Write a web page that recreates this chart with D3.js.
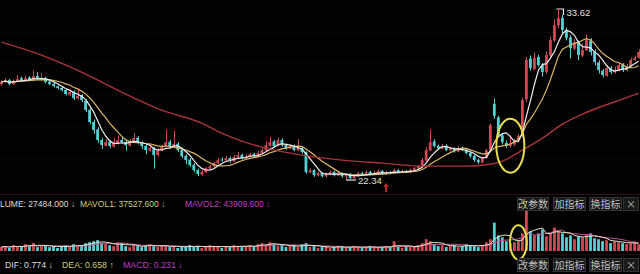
<!DOCTYPE html>
<html>
<head>
<meta charset="utf-8">
<script src="https://cdn.jsdelivr.net/npm/d3@7"></script>
<style>
html, body { margin: 0; padding: 0; background: #020202; overflow: hidden; }
svg { display: block; }
</style>
</head>
<body>
<svg id="chart" width="640" height="274"></svg>
<script>
// daily candles
const opens = [28.70,28.84,28.97,28.70,28.90,29.10,28.95,29.15,28.97,29.25,
29.00,29.12,28.86,28.72,28.55,28.46,28.32,28.00,28.20,27.75,
27.95,27.60,27.00,26.20,25.70,25.00,24.62,24.88,24.55,24.78,
25.00,24.88,24.62,24.90,25.15,24.80,24.60,24.30,24.45,24.00,
24.30,24.60,24.88,24.50,24.75,24.35,23.95,23.70,23.35,23.00,
22.70,22.85,23.10,23.25,23.45,23.70,23.64,23.80,23.58,23.85,
24.00,23.78,23.90,24.08,23.90,24.10,24.30,24.60,24.90,24.60,
25.00,24.68,24.42,24.60,24.30,24.48,24.20,22.85,23.00,22.64,
22.80,22.58,22.72,22.88,22.64,22.80,22.58,22.75,22.45,22.58,
22.80,22.65,22.88,22.72,22.78,22.95,22.72,22.88,22.78,23.00,
22.85,22.95,22.85,22.98,23.10,23.25,23.65,24.30,24.90,24.60,
24.42,24.62,24.30,24.40,24.22,24.48,24.35,24.15,23.95,23.68,
23.50,23.80,24.30,27.40,26.50,25.30,24.80,24.60,24.70,25.00,
25.30,27.70,30.40,29.70,30.50,29.95,29.50,30.60,31.60,32.60,
33.10,32.30,31.80,31.05,31.50,30.60,30.95,31.60,30.85,30.15,
29.60,29.25,29.80,29.48,29.60,30.00,29.60,29.88,30.32,30.45];

const closes = [28.84,28.97,28.70,28.90,29.03,28.97,29.10,28.97,29.23,29.03,
29.10,28.84,28.70,28.57,28.44,28.30,28.04,28.17,27.77,27.91,
27.64,26.98,26.18,25.65,24.98,24.65,24.85,24.59,24.79,24.98,
24.85,24.65,24.92,25.12,24.79,24.59,24.32,24.45,23.99,24.32,
24.59,24.85,24.52,24.72,24.32,23.92,23.66,23.32,22.99,22.73,
22.86,23.12,23.26,23.46,23.66,23.66,23.79,23.59,23.86,23.99,
23.79,23.92,24.05,23.92,24.12,24.32,24.65,24.85,24.59,24.98,
24.65,24.45,24.59,24.32,24.45,24.19,22.86,22.99,22.66,22.79,
22.59,22.73,22.86,22.66,22.79,22.59,22.73,22.46,22.59,22.79,
22.66,22.86,22.73,22.79,22.93,22.73,22.86,22.79,22.99,22.86,
22.93,22.86,22.99,23.12,23.26,23.66,24.32,24.85,24.59,24.45,
24.59,24.32,24.39,24.25,24.45,24.32,24.12,23.92,23.66,23.52,
23.79,24.32,25.98,26.60,25.32,24.85,24.59,24.72,24.98,25.25,
27.64,30.30,29.77,30.43,29.97,29.50,30.63,31.62,32.62,33.08,
32.29,31.76,31.09,31.49,30.63,30.96,31.62,30.83,30.16,29.63,
29.30,29.77,29.50,29.63,29.97,29.63,29.90,30.30,30.43,30.83];

const highs = [28.95,29.10,29.05,29.00,29.30,29.20,29.25,29.22,29.60,29.50,
29.45,29.18,28.95,28.80,28.62,28.55,28.40,28.35,28.28,28.40,
28.05,27.70,27.10,26.35,25.85,25.15,25.05,25.00,25.10,25.30,
25.20,24.95,25.05,25.45,25.25,24.90,24.70,24.60,24.55,24.45,
24.70,25.70,25.00,25.60,24.85,24.45,24.05,23.80,23.45,23.10,
23.00,23.20,23.35,23.55,23.80,23.85,23.95,23.90,24.00,24.20,
24.10,24.05,24.15,24.15,24.25,24.45,24.90,25.20,25.00,25.15,
25.10,24.75,24.70,24.68,25.05,24.55,24.25,23.10,23.05,22.90,
22.88,22.82,22.95,22.95,22.90,22.85,22.80,22.80,22.70,22.88,
22.90,23.00,22.95,22.95,23.05,23.00,22.95,22.95,23.10,23.05,
23.05,23.00,23.10,23.20,23.35,23.80,24.50,25.70,25.05,24.70,
24.75,24.70,24.55,24.50,24.60,24.55,24.40,24.20,24.00,23.75,
23.90,24.40,26.10,27.75,26.60,25.40,24.95,25.30,25.10,25.40,
27.80,30.50,30.60,30.80,30.65,30.10,30.85,31.85,33.00,33.62,
33.30,32.45,31.95,31.70,31.60,31.40,32.00,31.75,31.00,30.30,
29.70,29.95,29.90,29.85,30.10,30.10,30.05,30.45,30.60,31.00];

const lows = [28.60,28.78,28.62,28.65,28.85,28.90,28.88,28.92,28.90,28.98,
28.92,28.75,28.62,28.48,28.35,28.20,27.95,27.92,27.65,27.68,
27.50,26.85,26.05,25.40,24.80,24.40,24.55,24.45,24.50,24.70,
24.75,24.30,24.55,24.85,24.70,24.40,24.05,24.22,23.10,23.90,
24.25,24.55,24.40,24.45,24.20,23.80,23.40,23.20,22.85,22.60,
22.62,22.80,23.02,23.18,23.40,23.55,23.58,23.48,23.52,23.78,
23.70,23.72,23.85,23.85,23.85,24.05,24.25,24.55,24.50,24.55,
24.55,24.35,24.38,24.25,24.25,24.10,22.75,22.78,22.55,22.58,
22.50,22.52,22.68,22.58,22.60,22.50,22.34,22.40,22.42,22.55,
22.60,22.62,22.68,22.68,22.72,22.68,22.68,22.72,22.75,22.80,
22.80,22.80,22.80,22.92,23.05,23.20,23.60,24.25,24.50,24.35,
24.38,24.25,24.25,24.15,24.18,24.25,24.05,23.80,23.55,23.40,
23.45,23.75,24.25,26.40,25.20,24.70,24.45,24.50,24.60,24.95,
25.20,27.50,29.60,29.60,29.85,29.20,29.40,30.50,31.50,32.40,
32.10,31.60,30.40,30.95,30.30,30.50,30.90,30.60,29.95,29.40,
29.15,29.20,29.35,29.40,29.55,29.50,29.55,29.80,30.25,30.40];

const volumes = [16400,20100,12300,24200,19800,16600,28100,20400,32300,15900,
20300,24600,15800,19700,12600,20800,24100,16300,27900,19600,
24400,32100,36200,40300,44500,31800,28200,23900,20100,35800,
32400,19900,16100,24300,20200,15800,24100,28300,19700,16200,
20400,24200,15900,20100,12400,16300,19800,24500,16100,20300,
12200,16400,24100,19900,16200,12100,20300,15800,24400,20100,
15900,20200,24300,16100,28200,32400,24100,36300,28100,19800,
24200,16100,20300,24100,15800,28400,32100,16200,19900,12300,
16100,20200,12400,15900,20100,16300,12200,16100,20400,15800,
12100,16200,20100,15900,12300,16100,20200,16000,40100,16300,
12200,20100,16300,20400,24100,32200,48300,40100,28200,20300,
24100,16200,20100,24300,15900,20200,28100,24200,20300,16100,
24200,36100,48200,116300,64200,56100,40300,32100,36200,44100,
72300,164200,80100,64300,72100,88200,60300,72400,96100,80200,
72100,56200,64100,48300,60200,56100,68300,72200,52100,48300,
40200,44100,32300,40100,36200,32100,28300,32200,36100,27484];

// long moving average, read at a few candles
const longMaIdx = [0,10,20,30,40,50,55,60,65,75,85,95,105,115,120,125,130,135,140,145,150,155,159];
const longMaVal = [31.49,30.63,29.50,28.17,26.98,26.11,25.45,24.92,24.52,23.99,23.66,23.46,23.26,23.26,23.32,23.59,24.32,25.12,26.05,26.71,27.24,27.71,28.10];

const volLegend = ["LUME: 27484.000 \u2193", "MAVOL1: 37527.600 \u2193", "MAVOL2: 43909.600 \u2193"];
const macdLegend = ["DIF: 0.774 \u2193", "DEA: 0.658 \u2191", "MACD: 0.231 \u2193"];
const buttons = ["改参数", "加指标", "换指标", "\u00d7"];
const signalIdx = [96];
const circledIdx = 127;

const upColor = "#cf4a55";
const downColor = "#55cfd2";

const svg = d3.select("#chart");
const W = 640;
const N = closes.length;

const x = d3.scaleBand().domain(d3.range(N)).range([0, W]).paddingInner(0.3);
const bw = x.bandwidth();
const cx = i => x(i) + bw / 2;

const y = d3.scaleLinear().domain([22.34, 33.62]).range([180, 10]);
const yv = d3.scaleLinear().domain([0, 168000]).range([251, 210]);

function movingAvg(arr, n) {
    return arr.map((d, i) => d3.mean(arr.slice(Math.max(0, i - n + 1), i + 1)));
}

// grid of main panel
const grid = svg.append("g");
d3.range(1, 6).forEach(k => {
    grid.append("line")
        .attr("x1", 0).attr("x2", W)
        .attr("y1", Math.round(190 * k / 6) + 0.5).attr("y2", Math.round(190 * k / 6) + 0.5)
        .attr("stroke", "#2c1212").attr("stroke-dasharray", "1,3");
});
svg.append("line").attr("x1", 0).attr("x2", W).attr("y1", 194.5).attr("y2", 194.5)
    .attr("stroke", "#301414");
svg.append("line").attr("x1", 0).attr("x2", W).attr("y1", 254.5).attr("y2", 254.5)
    .attr("stroke", "#1c0e0e");

// candles
const candles = svg.append("g");
d3.range(N).forEach(i => {
    const up = closes[i] >= opens[i];
    const col = up ? upColor : downColor;
    const xc = Math.round(cx(i)) + 0.5;
    candles.append("line")
        .attr("x1", xc).attr("x2", xc)
        .attr("y1", y(highs[i])).attr("y2", y(lows[i]))
        .attr("stroke", col).attr("stroke-width", 1);
    const top = y(Math.max(opens[i], closes[i]));
    const h = Math.max(1, Math.abs(y(opens[i]) - y(closes[i])));
    candles.append("rect")
        .attr("x", x(i)).attr("y", top)
        .attr("width", bw).attr("height", h)
        .attr("fill", col);
});

// moving averages
const priceLine = d3.line().x((d, i) => cx(i)).y(d => y(d));
svg.append("path").datum(movingAvg(closes, 10))
    .attr("fill", "none").attr("stroke", "#d9b860").attr("stroke-width", 1.2)
    .attr("d", priceLine);
svg.append("path").datum(movingAvg(closes, 5))
    .attr("fill", "none").attr("stroke", "#eeeeee").attr("stroke-width", 1.2)
    .attr("d", priceLine);
svg.append("path").datum(longMaIdx.map((d, k) => [d, longMaVal[k]]))
    .attr("fill", "none").attr("stroke", "#a8343a").attr("stroke-width", 1.4)
    .attr("d", d3.line().curve(d3.curveMonotoneX).x(d => cx(d[0])).y(d => y(d[1])));

// high / low labels
const hiIdx = d3.maxIndex(highs);
const loIdx = d3.minIndex(lows);
const hx = cx(hiIdx), hy = y(highs[hiIdx]);
svg.append("path")
    .attr("d", `M${hx - 2},${hy - 1}H${hx + 5}V${hy + 5}`)
    .attr("fill", "none").attr("stroke", "#e6e6e6").attr("stroke-width", 1.2);
svg.append("text").attr("x", hx + 8).attr("y", hy + 6)
    .attr("fill", "#e0e0e0").attr("font-family", "Liberation Sans, Arial, sans-serif")
    .attr("font-size", 9.5).text(highs[hiIdx].toFixed(2));
const lx = cx(loIdx), ly = y(lows[loIdx]);
svg.append("path")
    .attr("d", `M${lx},${ly}H${lx + 10}`)
    .attr("fill", "none").attr("stroke", "#e6e6e6").attr("stroke-width", 1.2);
svg.append("text").attr("x", lx + 12).attr("y", ly + 4)
    .attr("fill", "#e0e0e0").attr("font-family", "Liberation Sans, Arial, sans-serif")
    .attr("font-size", 9.5).text(lows[loIdx].toFixed(2));

// buy signal marker
signalIdx.forEach(i => {
    const sx = cx(i), sy = y(lows[i]) + 8;
    svg.append("path")
        .attr("d", `M${sx},${sy}l-3,4h2v5h2v-5h2z`)
        .attr("fill", "#c02828");
});

// circled area on price panel
svg.append("ellipse")
    .attr("cx", cx(circledIdx)).attr("cy", y(24.62))
    .attr("rx", 14).attr("ry", 27)
    .attr("fill", "none").attr("stroke", "#e6de4e").attr("stroke-width", 2);

// volume bars
const vol = svg.append("g");
d3.range(N).forEach(i => {
    const up = closes[i] >= opens[i];
    vol.append("rect")
        .attr("x", x(i)).attr("y", yv(volumes[i]))
        .attr("width", bw).attr("height", yv(0) - yv(volumes[i]))
        .attr("fill", up ? upColor : downColor);
});
const volLine = d3.line().x((d, i) => cx(i)).y(d => yv(d));
svg.append("path").datum(movingAvg(volumes, 10))
    .attr("fill", "none").attr("stroke", "#c8509a").attr("stroke-width", 1)
    .attr("d", volLine);
svg.append("path").datum(movingAvg(volumes, 5))
    .attr("fill", "none").attr("stroke", "#e8e8c8").attr("stroke-width", 1)
    .attr("d", volLine);
svg.append("ellipse")
    .attr("cx", cx(circledIdx + 2)).attr("cy", yv(36000))
    .attr("rx", 8.5).attr("ry", 17)
    .attr("fill", "none").attr("stroke", "#e6de4e").attr("stroke-width", 2);

// legends
const legendColors = ["#dcdcdc", "#cfcf78", "#c23cc2"];
const volX = [0, 80, 185];
volLegend.forEach((t, k) => {
    svg.append("text").attr("x", volX[k]).attr("y", 207)
        .attr("fill", legendColors[k]).attr("font-family", "Liberation Sans, Arial, sans-serif")
        .attr("font-size", 8.5).text(t);
});
const macdX = [5, 62, 123];
macdLegend.forEach((t, k) => {
    svg.append("text").attr("x", macdX[k]).attr("y", 268)
        .attr("fill", legendColors[k]).attr("font-family", "Liberation Sans, Arial, sans-serif")
        .attr("font-size", 8.8).text(t);
});

// toolbar buttons
const btnX = [517, 553, 589, 623];
const btnW = [31, 32, 32, 15];
[197, 258].forEach(by => {
    buttons.forEach((b, k) => {
        svg.append("rect").attr("x", btnX[k] + 0.5).attr("y", by + 0.5)
            .attr("width", btnW[k]).attr("height", 13)
            .attr("fill", "#1a1a1a").attr("stroke", "#333");
        svg.append("text").attr("x", btnX[k] + btnW[k] / 2 + 0.5).attr("y", by + 11)
            .attr("text-anchor", "middle")
            .attr("fill", "#bdbdbd").attr("font-family", "Noto Sans CJK SC, sans-serif")
            .attr("font-size", 10).text(b);
    });
});
</script>
</body>
</html>
